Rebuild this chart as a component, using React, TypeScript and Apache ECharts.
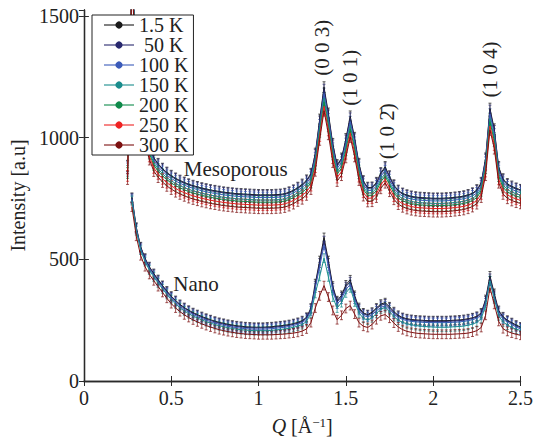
import { useEffect, useRef } from 'react';
import * as echarts from 'echarts';

const FONT = 'Liberation Serif';

const Q = [
  0.25, 0.275, 0.3, 0.325, 0.35, 0.375, 0.4, 0.425, 0.45, 0.475,
  0.5, 0.525, 0.55, 0.575, 0.6, 0.625, 0.65, 0.675, 0.7, 0.725,
  0.75, 0.775, 0.8, 0.825, 0.85, 0.875, 0.9, 0.925, 0.95, 0.975,
  1, 1.025, 1.05, 1.075, 1.1, 1.125, 1.15, 1.175, 1.2, 1.225,
  1.25, 1.275, 1.3, 1.325, 1.35, 1.375, 1.4, 1.425, 1.45, 1.475,
  1.5, 1.525, 1.55, 1.575, 1.6, 1.625, 1.65, 1.675, 1.7, 1.725,
  1.75, 1.775, 1.8, 1.825, 1.85, 1.875, 1.9, 1.925, 1.95, 1.975,
  2, 2.025, 2.05, 2.075, 2.1, 2.125, 2.15, 2.175, 2.2, 2.225,
  2.25, 2.275, 2.3, 2.325, 2.35, 2.375, 2.4, 2.425, 2.45, 2.475,
  2.5,
];

const MESO_1_5K = [
  885, 1700, 1330, 1140, 1030, 965, 918, 893, 873, 857,
  844, 833, 824, 816, 809, 803, 798, 793, 789, 785,
  782, 779, 776, 774, 772, 770, 769, 768, 767, 766,
  765, 765, 765, 765, 766, 767, 770, 776, 784, 795,
  808, 825, 852, 935, 1075, 1208, 1100, 975, 888, 915,
  995, 1088, 1000, 893, 822, 795, 796, 815, 855, 880,
  842, 805, 783, 771, 764, 759, 756, 754, 753, 752,
  751, 751, 751, 752, 753, 755, 757, 760, 765, 772,
  785, 815, 915, 1120, 1035, 880, 830, 810, 800, 792,
  786,
];
const MESO_50K = [
  882, 1697, 1327, 1137, 1027, 962, 915, 890, 870, 854,
  841, 830, 821, 813, 806, 800, 795, 790, 786, 782,
  779, 776, 773, 771, 769, 767, 766, 765, 764, 763,
  762, 762, 762, 762, 763, 764, 767, 773, 781, 792,
  804, 821, 848, 930, 1067, 1198, 1092, 969, 883, 910,
  989, 1080, 994, 888, 818, 792, 793, 811, 851, 875,
  838, 802, 780, 768, 761, 756, 753, 751, 750, 749,
  748, 748, 748, 749, 750, 752, 754, 757, 762, 769,
  782, 811, 910, 1112, 1028, 875, 826, 806, 796, 789,
  783,
];
const MESO_100K = [
  874, 1689, 1319, 1129, 1019, 954, 907, 882, 862, 846,
  833, 822, 813, 805, 798, 792, 787, 782, 778, 774,
  771, 768, 765, 763, 761, 759, 758, 757, 756, 755,
  754, 754, 754, 754, 755, 756, 759, 765, 773, 784,
  796, 812, 838, 918, 1053, 1182, 1077, 957, 873, 899,
  976, 1066, 981, 878, 809, 783, 784, 802, 841, 865,
  828, 793, 771, 760, 753, 748, 745, 743, 742, 741,
  740, 740, 740, 741, 742, 744, 746, 749, 754, 761,
  773, 802, 899, 1097, 1015, 865, 817, 798, 788, 780,
  774,
];
const MESO_150K = [
  864, 1679, 1309, 1119, 1009, 944, 897, 872, 852, 836,
  823, 812, 803, 795, 788, 782, 777, 772, 768, 764,
  761, 758, 755, 753, 751, 749, 748, 747, 746, 745,
  744, 744, 744, 744, 745, 746, 749, 755, 763, 774,
  785, 801, 826, 905, 1037, 1163, 1061, 943, 860, 886,
  962, 1050, 966, 865, 798, 773, 774, 792, 829, 853,
  817, 782, 761, 750, 743, 738, 735, 733, 732, 731,
  730, 730, 730, 731, 732, 734, 736, 739, 744, 751,
  763, 792, 886, 1080, 999, 853, 806, 787, 777, 770,
  764,
];
const MESO_200K = [
  855, 1670, 1300, 1110, 1000, 935, 888, 863, 843, 827,
  814, 803, 794, 786, 779, 773, 768, 763, 759, 755,
  752, 749, 746, 744, 742, 740, 739, 738, 737, 736,
  735, 735, 735, 735, 736, 737, 740, 746, 754, 765,
  775, 791, 816, 893, 1024, 1147, 1047, 931, 850, 875,
  949, 1036, 954, 854, 788, 763, 764, 782, 819, 842,
  807, 773, 752, 741, 734, 729, 726, 724, 723, 722,
  721, 721, 721, 722, 723, 725, 727, 730, 735, 742,
  754, 782, 875, 1066, 986, 842, 796, 777, 768, 760,
  755,
];
const MESO_250K = [
  843, 1658, 1288, 1098, 988, 923, 876, 851, 831, 815,
  802, 791, 782, 774, 767, 761, 756, 751, 747, 743,
  740, 737, 734, 732, 730, 728, 727, 726, 725, 724,
  723, 723, 723, 723, 724, 725, 728, 734, 742, 753,
  763, 778, 803, 879, 1007, 1129, 1030, 916, 836, 861,
  934, 1019, 938, 840, 776, 751, 752, 769, 806, 829,
  794, 760, 740, 729, 722, 717, 714, 712, 711, 710,
  709, 709, 709, 710, 711, 713, 715, 718, 723, 730,
  742, 769, 861, 1048, 970, 829, 783, 765, 755, 748,
  743,
];
const MESO_300K = [
  830, 1645, 1275, 1085, 975, 910, 863, 838, 818, 802,
  789, 778, 769, 761, 754, 748, 743, 738, 734, 730,
  727, 724, 721, 719, 717, 715, 714, 713, 712, 711,
  710, 710, 710, 710, 711, 712, 715, 721, 729, 740,
  749, 765, 789, 864, 991, 1111, 1014, 900, 822, 846,
  919, 1003, 923, 826, 762, 738, 739, 756, 792, 815,
  780, 747, 727, 716, 709, 704, 701, 699, 698, 697,
  696, 696, 696, 697, 698, 700, 702, 705, 710, 717,
  729, 756, 846, 1032, 955, 815, 769, 751, 742, 735,
  730,
];

const NANO_1_5K = [
  null, 755, 632, 552, 505, 470, 442, 417, 393, 370,
  349, 331, 315, 302, 291, 281, 273, 265, 258, 252,
  246, 241, 237, 233, 230, 227, 225, 223, 222, 221,
  221, 221, 222, 223, 225, 227, 229, 232, 236, 241,
  248, 262, 300, 400, 495, 590, 495, 390, 330, 352,
  395, 416, 352, 302, 280, 273, 283, 300, 316, 322,
  305, 285, 270, 261, 256, 253, 251, 250, 249, 248,
  248, 248, 248, 248, 249, 250, 251, 253, 256, 260,
  266, 280, 335, 432, 360, 290, 264, 250, 240, 230,
  222,
];
const NANO_50K = [
  null, 752, 629, 549, 502, 467, 439, 414, 390, 367,
  346, 328, 312, 299, 288, 278, 270, 262, 255, 249,
  243, 238, 234, 230, 227, 224, 222, 220, 219, 218,
  218, 218, 219, 220, 222, 224, 226, 229, 233, 238,
  245, 259, 296, 392, 485, 577, 485, 383, 325, 346,
  388, 408, 346, 297, 276, 270, 279, 296, 311, 317,
  300, 281, 266, 258, 253, 250, 248, 247, 246, 245,
  245, 245, 245, 245, 246, 247, 248, 250, 253, 257,
  263, 276, 329, 422, 352, 286, 261, 247, 237, 227,
  219,
];
const NANO_100K = [
  null, 747, 624, 544, 497, 462, 434, 409, 385, 362,
  341, 323, 307, 294, 283, 273, 265, 257, 250, 244,
  238, 233, 229, 225, 222, 219, 217, 215, 214, 213,
  213, 213, 214, 215, 217, 219, 221, 224, 228, 233,
  240, 253, 288, 382, 470, 558, 470, 372, 316, 337,
  377, 396, 337, 290, 270, 263, 273, 288, 303, 309,
  293, 275, 261, 253, 248, 245, 243, 242, 241, 240,
  240, 240, 240, 240, 241, 242, 243, 245, 248, 252,
  258, 270, 321, 411, 344, 279, 255, 242, 232, 222,
  214,
];
const NANO_150K = [
  null, 742, 618, 538, 491, 456, 428, 403, 379, 356,
  335, 317, 301, 288, 277, 267, 259, 251, 244, 238,
  232, 227, 223, 219, 216, 213, 211, 209, 208, 207,
  207, 207, 207, 208, 210, 212, 214, 217, 221, 226,
  232, 245, 278, 360, 430, 505, 428, 345, 300, 322,
  362, 383, 325, 280, 258, 250, 260, 278, 296, 302,
  285, 265, 250, 241, 235, 231, 228, 226, 224, 223,
  222, 221, 221, 221, 222, 223, 224, 226, 229, 234,
  241, 256, 310, 412, 338, 268, 243, 230, 220, 213,
  208,
];
const NANO_300K = [
  null, 715, 595, 515, 470, 438, 412, 388, 364, 340,
  318, 300, 285, 272, 261, 251, 243, 235, 228, 222,
  216, 211, 207, 203, 200, 197, 195, 193, 192, 191,
  190, 190, 190, 190, 191, 192, 193, 195, 197, 200,
  205, 214, 240, 300, 350, 392, 345, 290, 252, 270,
  298, 310, 275, 240, 225, 220, 232, 252, 268, 273,
  258, 238, 222, 211, 204, 200, 197, 195, 194, 193,
  192, 192, 192, 192, 192, 193, 194, 195, 197, 201,
  207, 220, 270, 383, 315, 245, 215, 204, 197, 192,
  188,
];

const TEMPS = ['1.5 K', '50 K', '100 K', '150 K', '200 K', '250 K', '300 K'];
const COLORS = ['#1a1a1a', '#28286e', '#3b5bb9', '#1a8d8d', '#0f8a4a', '#ef2323', '#7c1010'];
const MESO_SETS = [MESO_1_5K, MESO_50K, MESO_100K, MESO_150K, MESO_200K, MESO_250K, MESO_300K];
const NANO_TEMPS = ['1.5 K', '50 K', '100 K', '150 K', '300 K'];
const NANO_SETS = [NANO_1_5K, NANO_50K, NANO_100K, NANO_150K, NANO_300K];
const ERR_MESO = 22;
const ERR_NANO = 18;

const PEAK_LABELS = ['(0 0 3)', '(1 0 1)', '(1 0 2\u0304)', '(1 0 4)'];
const PEAK_Q = [1.364, 1.523, 1.733, 2.324];
const PEAK_I = [1370, 1247, 1027, 1280];
const SAMPLE_LABELS = ['Mesoporous', 'Nano'];
const SAMPLE_Q = [0.869, 0.642];
const SAMPLE_I = [872, 400];

const X_TICKS = [0, 0.5, 1, 1.5, 2, 2.5];
const Y_TICKS = [0, 500, 1000, 1500];

const toPairs = (vals: (number | null)[]) =>
  Q.map((q, i) => [q, vals[i]]).filter((p) => p[1] !== null && p[1] !== undefined);

const makeErr = (color: string, err: number) => (_params: any, api: any) => {
  const q = api.value(0);
  const v = api.value(1);
  const a = api.coord([q, v + err]);
  const b = api.coord([q, v - err]);
  const style = { stroke: color, lineWidth: 1, opacity: 0.7 };
  return {
    type: 'group',
    children: [
      { type: 'line', shape: { x1: a[0], y1: a[1], x2: b[0], y2: b[1] }, style },
      { type: 'line', shape: { x1: a[0] - 1.5, y1: a[1], x2: a[0] + 1.5, y2: a[1] }, style },
      { type: 'line', shape: { x1: b[0] - 1.5, y1: b[1], x2: b[0] + 1.5, y2: b[1] }, style },
    ],
  };
};

function groupSeries(names: string[], sets: (number | null)[][], err: number, tag: string) {
  const out: any[] = [];
  sets.forEach((vals, j) => {
    const name = names[j];
    const color = COLORS[TEMPS.indexOf(name)];
    const data = toPairs(vals);
    out.push({
      type: 'custom',
      name: name + ' err ' + tag,
      data,
      encode: { x: 0, y: 1 },
      clip: true,
      silent: true,
      renderItem: makeErr(color, err),
    });
    out.push({
      type: 'line',
      name,
      data,
      symbol: 'circle',
      showSymbol: false,
      symbolSize: 7,
      clip: true,
      silent: true,
      color,
      itemStyle: { color },
      lineStyle: { color, width: 1 },
    });
  });
  return out;
}

const labelSeries = (texts: string[], qs: number[], is: number[], rot: number, size: number) => ({
  type: 'custom',
  name: 'labels' + rot,
  data: qs.map((q, i) => [q, is[i]]),
  encode: { x: 0, y: 1 },
  clip: false,
  silent: true,
  z: 6,
  renderItem: (params: any, api: any) => {
    const p = api.coord([api.value(0), api.value(1)]);
    return {
      type: 'text',
      x: p[0],
      y: p[1],
      rotation: rot,
      style: {
        text: texts[params.dataIndex],
        fontSize: size,
        fontFamily: FONT,
        fill: '#222',
        align: 'center',
        verticalAlign: 'middle',
        textAlign: 'center',
        textVerticalAlign: 'middle',
      },
    };
  },
});

const axisLine = { show: true, lineStyle: { color: '#2a2a2a', width: 1.3 } };
const tickIn = { show: true, inside: true, length: 5, lineStyle: { color: '#2a2a2a', width: 1 } };

export default function App() {
  const ref = useRef<HTMLDivElement>(null);
  useEffect(() => {
    const chart = echarts.init(ref.current!, null, { renderer: 'svg' });
    chart.setOption({
      animation: false,
      backgroundColor: '#fff',
      textStyle: { fontFamily: FONT },
      grid: { left: 83, right: 13, top: 10, bottom: 57, containLabel: false },
      legend: {
        data: TEMPS,
        orient: 'vertical',
        left: 92,
        top: 15,
        backgroundColor: '#fff',
        borderColor: '#222',
        borderWidth: 1,
        borderRadius: 0,
        padding: [0, 5, 0, 11],
        itemWidth: 30,
        itemHeight: 9,
        itemGap: 0,
        selectedMode: false,
        z: 10,
        lineStyle: { width: 2, opacity: 0.55 },
        formatter: (n: string) => (n === '50 K' ? ' 50 K' : n),
        textStyle: { fontFamily: FONT, fontSize: 20, color: '#222' },
      },
      xAxis: [
        {
          type: 'value',
          min: 0,
          max: 2.5,
          interval: 0.5,
          position: 'bottom',
          axisLine,
          axisTick: tickIn,
          splitLine: { show: false },
          axisLabel: {
            margin: 7,
            fontSize: 20,
            fontFamily: FONT,
            color: '#222',
            formatter: (v: number) => (X_TICKS.includes(v) ? String(v) : ''),
          },
          name: '{i|Q} [Å{s|\u22121}]',
          nameLocation: 'middle',
          nameGap: 35,
          nameTextStyle: {
            fontSize: 20,
            fontFamily: FONT,
            color: '#222',
            rich: {
              i: { fontStyle: 'italic', fontSize: 20, fontFamily: FONT, color: '#222' },
              s: { fontSize: 13, fontFamily: FONT, color: '#222', verticalAlign: 'top', lineHeight: 13 },
            },
          },
        },
        {
          type: 'value',
          min: 0,
          max: 2.5,
          interval: 0.5,
          position: 'top',
          axisLine,
          axisTick: tickIn,
          axisLabel: { show: false },
          splitLine: { show: false },
        },
      ],
      yAxis: [
        {
          type: 'value',
          min: 0,
          max: 1525,
          interval: 500,
          position: 'left',
          axisLine,
          axisTick: tickIn,
          splitLine: { show: false },
          axisLabel: {
            margin: 5,
            fontSize: 20,
            fontFamily: FONT,
            color: '#222',
            showMaxLabel: false,
            formatter: (v: number) => (Y_TICKS.includes(v) ? String(v) : ''),
          },
          name: 'Intensity [a.u]',
          nameLocation: 'middle',
          nameGap: 50,
          nameRotate: 90,
          nameTextStyle: { fontSize: 20, fontFamily: FONT, color: '#222' },
        },
        {
          type: 'value',
          min: 0,
          max: 1525,
          interval: 500,
          position: 'right',
          axisLine,
          axisTick: tickIn,
          axisLabel: { show: false },
          splitLine: { show: false },
        },
      ],
      series: [
        ...groupSeries(TEMPS, MESO_SETS, ERR_MESO, 'meso'),
        ...groupSeries(NANO_TEMPS, NANO_SETS, ERR_NANO, 'nano'),
        labelSeries(PEAK_LABELS, PEAK_Q, PEAK_I, Math.PI / 2, 21),
        labelSeries(SAMPLE_LABELS, SAMPLE_Q, SAMPLE_I, 0, 21),
      ],
    });
    return () => chart.dispose();
  }, []);
  return (
    <div
      ref={ref}
      style={{ position: 'fixed', left: 0, top: 0, width: 536, height: 441, background: '#fff' }}
    />
  );
}
